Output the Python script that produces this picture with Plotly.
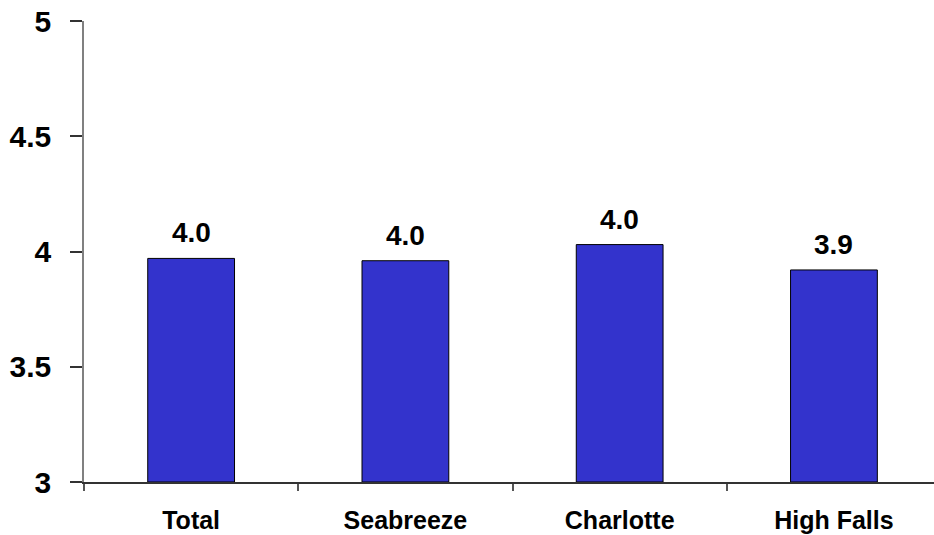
import plotly.graph_objects as go

# Mean ratings by site
sites = ["Total", "Seabreeze", "Charlotte", "High Falls"]
ratings = [3.97, 3.96, 4.03, 3.92]
y_ticks = [3, 3.5, 4, 4.5, 5]
y_tick_text = ["3", "3.5", "4", "4.5", "5"]

AXIS_FLOOR = 3
BAR_COLOR = "#3333CC"
FONT = "Liberation Sans, Arial, sans-serif"

# bars start at the axis floor, so their lengths are offsets from it
fig = go.Figure(
    go.Bar(
        x=sites,
        y=[v - AXIS_FLOOR for v in ratings],
        base=AXIS_FLOOR,
        width=0.405,
        marker=dict(color=BAR_COLOR, line=dict(color="#000000", width=1)),
        hoverinfo="skip",
    )
)

for s, v in zip(sites, ratings):
    fig.add_annotation(
        x=s, y=v, text=f"<b>{v:.1f}</b>", showarrow=False,
        yanchor="bottom", yshift=8,
        font=dict(family=FONT, size=28, color="#000000"),
    )

fig.update_layout(
    width=934, height=535,
    margin=dict(l=84, r=0, t=21, b=53),
    paper_bgcolor="white", plot_bgcolor="white",
    showlegend=False,
    font=dict(family=FONT, color="#000000"),
)

fig.update_xaxes(
    type="category",
    range=[-0.5, 3.467],
    tickson="boundaries",
    ticks="outside", ticklen=7, tickcolor="#555555", tickwidth=1.5,
    showline=True, linecolor="#333333", linewidth=1.5,
    showgrid=False, zeroline=False,
    tickvals=sites, ticktext=[f"<b>{s}</b>" for s in sites],
    tickfont=dict(family=FONT, size=25, color="#000000"),
    ticklabelstandoff=15,
)

fig.update_yaxes(
    range=[3, 5],
    tickvals=y_ticks, ticktext=[f"<b>{t}</b>" for t in y_tick_text],
    ticks="outside", ticklen=12, tickcolor="#333333", tickwidth=1.5,
    showline=True, linecolor="#808080", linewidth=1.5,
    showgrid=False, zeroline=False,
    tickfont=dict(family=FONT, size=30, color="#000000"),
    ticklabelstandoff=13,
)

fig.write_html("out.html")
